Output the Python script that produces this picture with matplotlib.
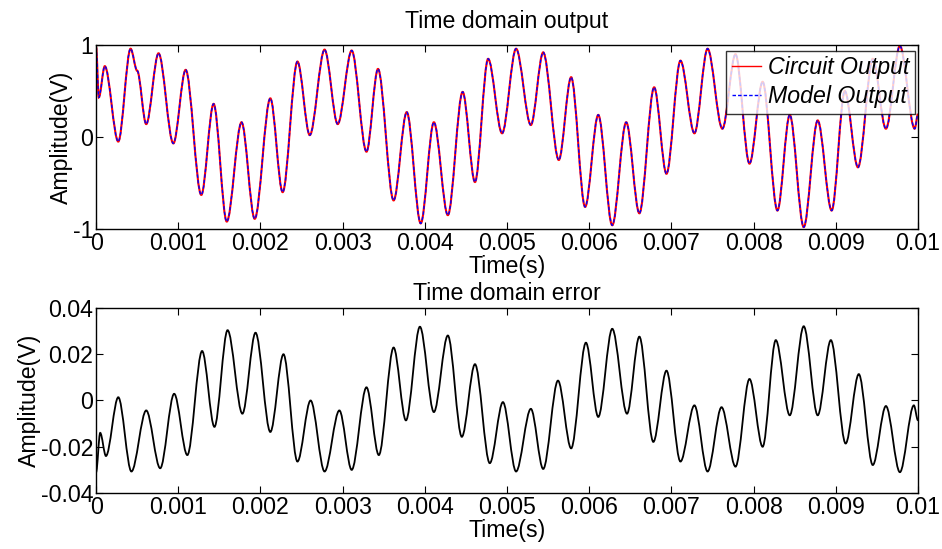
import matplotlib
matplotlib.use("Agg")
import matplotlib.pyplot as plt
import numpy as np
from matplotlib.path import Path
from matplotlib.patches import PathPatch
from matplotlib.lines import Line2D

# extrema (time in ms)
out_t_ms = [0, 0.033, 0.106, 0.27, 0.42, 0.50, 0.61, 0.76, 0.94,
            1.09, 1.28, 1.43, 1.59, 1.77, 1.93,
            2.12, 2.27, 2.45, 2.60, 2.78, 2.94,
            3.11, 3.29, 3.43, 3.62, 3.78, 3.95,
            4.11, 4.28, 4.46, 4.61, 4.77, 4.94,
            5.11, 5.29, 5.44, 5.63, 5.78, 5.95,
            6.11, 6.28, 6.45, 6.61, 6.79, 6.94,
            7.11, 7.28, 7.44, 7.62, 7.78, 7.95,
            8.11, 8.29, 8.44, 8.61, 8.78, 8.95,
            9.11, 9.27, 9.45, 9.61, 9.78, 9.96, 10.0]
circuit_v = [0.98, 0.43, 0.77, -0.05, 0.96, 0.72, 0.14, 0.91, -0.07,
             0.73, -0.63, 0.36, -0.92, 0.16, -0.89,
             0.42, -0.60, 0.82, 0.02, 0.95, 0.14,
             0.94, -0.16, 0.74, -0.69, 0.27, -0.94,
             0.16, -0.85, 0.49, -0.49, 0.85, 0.04,
             0.96, 0.13, 0.92, -0.25, 0.65, -0.76,
             0.24, -0.96, 0.16, -0.83, 0.54, -0.40,
             0.83, 0.04, 0.96, 0.09, 0.9, -0.29,
             0.6, -0.80, 0.24, -0.98, 0.18, -0.80,
             0.5, -0.33, 0.85, 0.09, 0.99, 0.09, 0.25]
model_v = circuit_v

err_t_ms = [0, 0.05, 0.12, 0.27, 0.43, 0.61, 0.78, 0.95,
            1.11, 1.29, 1.44, 1.60, 1.78, 1.94,
            2.12, 2.28, 2.45, 2.61, 2.78, 2.96,
            3.11, 3.29, 3.44, 3.62, 3.77, 3.94,
            4.11, 4.28, 4.45, 4.61, 4.79, 4.95,
            5.11, 5.29, 5.44, 5.62, 5.78, 5.96,
            6.11, 6.28, 6.46, 6.61, 6.78, 6.94,
            7.11, 7.28, 7.44, 7.61, 7.78, 7.95,
            8.11, 8.27, 8.44, 8.61, 8.78, 8.94,
            9.12, 9.28, 9.45, 9.61, 9.78, 9.95, 10.0]
# error in units of 0.01 V
err_v = [-3.1, -1.4, -2.4, 0.14, -3.07, -0.43, -2.93, 0.29,
         -2.36, 2.14, -1.14, 3.04, -0.57, 2.93,
         -1.36, 2.0, -2.64, 0.0, -3.07, -0.43,
         -3.0, 0.57, -2.36, 2.29, -0.86, 3.19,
         -0.5, 2.81, -1.57, 1.57, -2.71, -0.07,
         -3.07, -0.36, -2.96, 0.86, -2.07, 2.5,
         -0.71, 3.1, -0.57, 2.76, -1.79, 1.29,
         -2.64, -0.21, -3.07, -0.29, -2.86, 0.93,
         -2.0, 2.61, -0.64, 3.21, -0.64, 2.61,
         -1.86, 1.14, -2.79, -0.24, -3.1, -0.21, -0.86]

x_ticks = [0, 0.001, 0.002, 0.003, 0.004, 0.005, 0.006, 0.007, 0.008, 0.009, 0.01]
x_tick_labels = ["0", "0.001", "0.002", "0.003", "0.004", "0.005",
                 "0.006", "0.007", "0.008", "0.009", "0.01"]
top_y_ticks = [-1, 0, 1]
bottom_y_ticks = [-0.04, -0.02, 0, 0.02, 0.04]
bottom_y_labels = ["-0.04", "-0.02", "0", "0.02", "0.04"]

FS = 16.7


def smooth_path(t, v):
    # cubic segments between the read extrema, flat at each turning point
    verts = [(t[0], v[0])]
    codes = [Path.MOVETO]
    for i in range(1, len(t)):
        dt = t[i] - t[i - 1]
        verts += [(t[i - 1] + dt / 3, v[i - 1]), (t[i] - dt / 3, v[i]), (t[i], v[i])]
        codes += [Path.CURVE4] * 3
    return Path(verts, codes)


def style_axes(ax):
    ax.tick_params(direction="in", top=True, right=True, length=5, width=0.8,
                   labelsize=FS, pad=2)
    ax.set_xlim(0, 0.01)
    ax.set_xticks(x_ticks)
    ax.set_xticklabels(x_tick_labels)
    for s in ax.spines.values():
        s.set_linewidth(1.0)
    ax.set_xlabel("Time(s)", fontsize=FS, labelpad=0)
    ax.set_ylabel("Amplitude(V)", fontsize=FS, labelpad=0)


def main():
    plt.rcParams["font.family"] = ["Liberation Sans", "DejaVu Sans"]
    plt.rcParams["axes.unicode_minus"] = False
    fig = plt.figure(figsize=(9.42, 5.49), dpi=100)
    ax1 = fig.add_axes([0.102, 0.583, 0.8725, 0.335])
    ax2 = fig.add_axes([0.102, 0.102, 0.8725, 0.337])

    t_out = np.array(out_t_ms) * 1e-3
    ax1.add_patch(PathPatch(smooth_path(t_out, circuit_v), fill=False,
                            edgecolor="red", lw=1.5))
    ax1.add_patch(PathPatch(smooth_path(t_out, model_v), fill=False,
                            edgecolor="blue", lw=1.0, ls=(0, (2.5, 1.5))))
    ax1.set_ylim(-1, 1)
    ax1.set_yticks(top_y_ticks)
    style_axes(ax1)
    ax1.set_title("Time domain output", fontsize=FS, pad=12)
    handles = [Line2D([], [], color="red", lw=1.0),
               Line2D([], [], color="blue", lw=1.0, ls=(0, (2.5, 1.5)))]
    leg = ax1.legend(handles, ["Circuit Output", "Model Output"],
                     loc="upper right", bbox_to_anchor=(0.9965, 0.97),
                     prop={"size": FS, "style": "italic"}, frameon=True,
                     fancybox=False, borderpad=0.25, handlelength=1.25,
                     handletextpad=0.3, labelspacing=0.25, borderaxespad=0.0)
    leg.get_frame().set_edgecolor("black")
    leg.get_frame().set_linewidth(1.0)

    t_err = np.array(err_t_ms) * 1e-3
    ax2.add_patch(PathPatch(smooth_path(t_err, np.array(err_v) * 0.01),
                            fill=False, edgecolor="black", lw=1.3))
    ax2.set_ylim(-0.04, 0.04)
    ax2.set_yticks(bottom_y_ticks)
    ax2.set_yticklabels(bottom_y_labels)
    style_axes(ax2)
    ax2.set_title("Time domain error", fontsize=FS, pad=6)

    fig.savefig("out.png", dpi=100)
    plt.close()


if __name__ == "__main__":
    main()
